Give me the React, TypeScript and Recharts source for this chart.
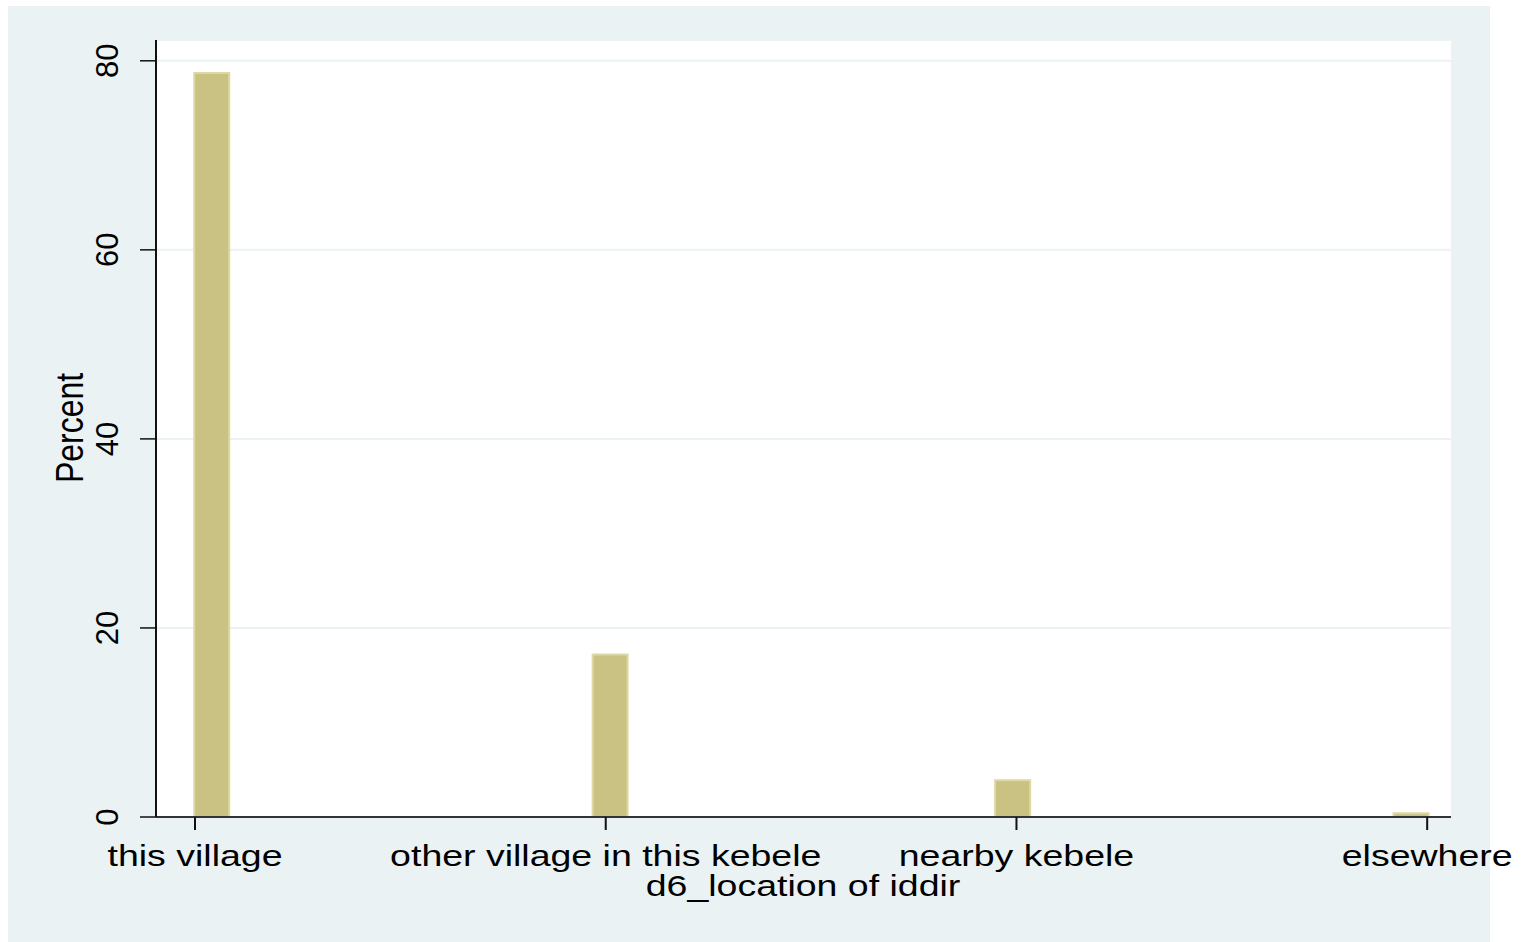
import { Bar, BarChart, CartesianGrid, XAxis, YAxis } from "recharts";

const CATEGORIES = ["this village", "other village in this kebele", "nearby kebele", "elsewhere"];
const CODES = [1, 2, 3, 4];
// Stata puts the bins slightly off the category codes
const BIN_MIDS = [1.04, 2.01, 2.99, 3.96];
const PERCENTS = [78.7, 17.2, 3.9, 0.4];
const Y_TICKS = [0, 20, 40, 60, 80];

const data = BIN_MIDS.map((x, i) => ({ x, pct: PERCENTS[i] }));

const FONT = "'Liberation Sans', Arial, Helvetica, sans-serif";
const STATA_BG = "#EAF2F3";

function XTick({ x, y, payload }: any) {
  const label = CATEGORIES[CODES.indexOf(payload.value)];
  return (
    <text
      transform={`translate(${x},${y + 34}) scale(1.25,1)`}
      textAnchor="middle"
      fontFamily={FONT}
      fontSize={30}
      fill="#000"
    >
      {label}
    </text>
  );
}

function YTick({ x, y, payload }: any) {
  return (
    <text
      transform={`translate(${x - 20},${y}) rotate(-90)`}
      textAnchor="middle"
      fontFamily={FONT}
      fontSize={31}
      fill="#000"
    >
      {payload.value}
    </text>
  );
}

export default function App() {
  return (
    <div style={{ position: "absolute", left: 0, top: 0, width: 1528, height: 942, background: "#fff" }}>
      <div style={{ position: "absolute", left: 8, top: 6, width: 1482, height: 936, background: STATA_BG }} />
      <BarChart
        width={1528}
        height={942}
        data={data}
        margin={{ top: 40, right: 77, left: 0, bottom: 45 }}
        style={{ position: "absolute", left: 0, top: 0 }}
      >
        <CartesianGrid vertical={false} fill="#fff" stroke={STATA_BG} strokeWidth={2} />
        <XAxis
          dataKey="x"
          type="number"
          domain={[0.905, 4.058]}
          allowDataOverflow
          ticks={CODES}
          interval={0}
          height={80}
          tickSize={13}
          tickMargin={2}
          tick={<XTick />}
          tickLine={{ stroke: "#111", strokeWidth: 2 }}
          axisLine={{ stroke: "#333", strokeWidth: 2 }}
          label={{
            content: () => (
              <text
                transform="translate(803,896) scale(1.25,1)"
                textAnchor="middle"
                fontFamily={FONT}
                fontSize={30}
                fill="#000"
              >
                d6_location of iddir
              </text>
            ),
          }}
        />
        <YAxis
          type="number"
          domain={[0, 82.2]}
          allowDataOverflow
          ticks={Y_TICKS}
          interval={0}
          width={156}
          tickSize={16}
          tickMargin={2}
          tick={<YTick />}
          tickLine={{ stroke: "#111", strokeWidth: 1.5 }}
          axisLine={{ stroke: "#111", strokeWidth: 2 }}
          label={{
            content: () => (
              <text
                transform="translate(83,428) scale(1.2,1) rotate(-90)"
                textAnchor="middle"
                fontFamily={FONT}
                fontSize={32}
                fill="#000"
              >
                Percent
              </text>
            ),
          }}
        />
        <Bar
          dataKey="pct"
          fill="#C9C283"
          stroke="#DDD8A4"
          strokeWidth={2}
          barSize={35}
          isAnimationActive={false}
        />
      </BarChart>
    </div>
  );
}
